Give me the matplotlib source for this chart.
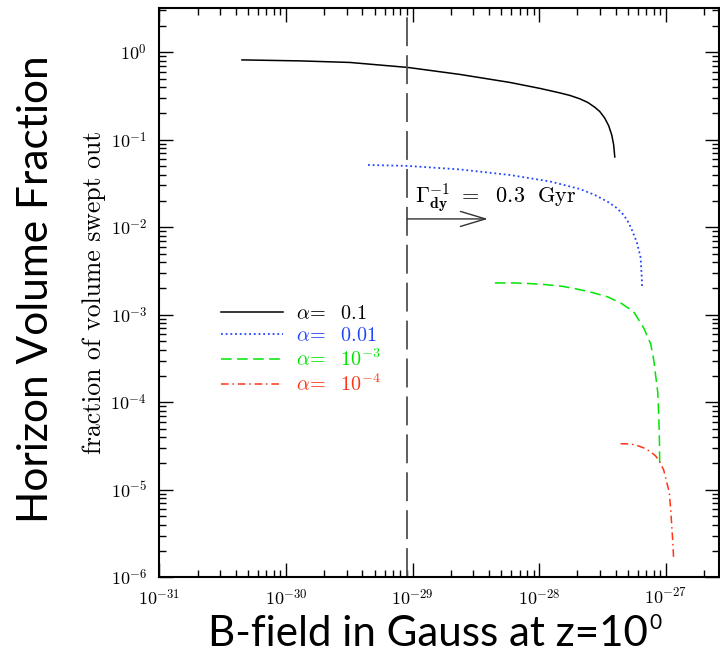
import matplotlib
matplotlib.use("Agg")
import matplotlib.pyplot as plt
from matplotlib.ticker import FuncFormatter, NullFormatter
import numpy as np

plt.rcParams['mathtext.fontset'] = 'cm'

# alpha = 0.1 (black, solid)
b1 = [4.48e-31, 1.29e-30, 3.19e-30, 9.14e-30, 2.35e-29, 5.83e-29, 1.01e-28,
      1.45e-28, 1.74e-28, 2.08e-28, 2.41e-28, 2.74e-28, 3.00e-28, 3.28e-28,
      3.53e-28, 3.73e-28, 3.86e-28, 3.94e-28]
f1 = [0.817, 0.796, 0.764, 0.670, 0.558, 0.452, 0.386,
      0.343, 0.321, 0.294, 0.267, 0.235, 0.210, 0.177,
      0.144, 0.113, 0.0873, 0.0636]

# alpha = 0.01 (blue, dotted)
b2 = [4.43e-30, 9.14e-30, 2.35e-29, 5.83e-29, 1.21e-28, 2.08e-28, 2.74e-28,
      3.47e-28, 4.08e-28, 4.64e-28, 5.08e-28, 5.46e-28, 5.87e-28, 6.09e-28,
      6.31e-28, 6.37e-28, 6.43e-28, 6.47e-28]
f2 = [0.0515, 0.0502, 0.0458, 0.0396, 0.0334, 0.0274, 0.0234,
      0.0195, 0.0166, 0.0138, 0.0112, 8.84e-3, 6.79e-3, 5.51e-3,
      4.46e-3, 3.43e-3, 2.70e-3, 2.08e-3]

# alpha = 1e-3 (green, dashed)
b3 = [4.45e-29, 6.40e-29, 8.40e-29, 1.12e-28, 1.50e-28, 1.97e-28, 2.64e-28,
      3.47e-28, 4.47e-28, 5.56e-28, 6.67e-28, 7.57e-28, 8.00e-28, 8.29e-28,
      8.60e-28, 8.71e-28, 8.81e-28, 8.88e-28, 8.91e-28]
f3 = [2.31e-3, 2.31e-3, 2.27e-3, 2.21e-3, 2.12e-3, 1.97e-3, 1.79e-3,
      1.60e-3, 1.34e-3, 1.08e-3, 7.06e-4, 4.64e-4, 3.04e-4, 2.00e-4,
      1.31e-4, 8.60e-5, 5.50e-5, 3.43e-5, 1.92e-5]

# alpha = 1e-4 (red, dash-dot)
b4 = [4.38e-28, 5.26e-28, 5.98e-28, 6.79e-28, 7.57e-28, 8.29e-28, 8.91e-28,
      9.59e-28, 1.01e-27, 1.06e-27, 1.09e-27, 1.11e-27, 1.13e-27, 1.15e-27]
f4 = [3.36e-5, 3.34e-5, 3.19e-5, 2.98e-5, 2.72e-5, 2.43e-5, 2.09e-5,
      1.68e-5, 1.24e-5, 9.44e-6, 5.88e-6, 3.85e-6, 2.60e-6, 1.58e-6]

labels = [r'$\alpha\!=\ \ 0.1$', r'$\alpha\!=\ \ 0.01$',
          r'$\alpha\!=\ \ 10^{-3}$', r'$\alpha\!=\ \ 10^{-4}$']

xticks = [1e-31, 1e-30, 1e-29, 1e-28, 1e-27]
yticks = [1e-6, 1e-5, 1e-4, 1e-3, 1e-2, 1e-1, 1e0]

b_dyn = 9.06e-30   # Gamma_dy^-1 = 0.3 Gyr
b_arrow_end = 3.92e-29
f_arrow = 0.01245

fig = plt.figure(figsize=(7.2, 6.57), dpi=100)
ax = fig.add_axes([0.2215, 0.1213, 0.7765, 0.8665])

ax.plot(b1, f1, color='black', lw=1.1, label=labels[0])
ax.plot(b2, f2, color='#2045ff', lw=1.3, ls=(0, (1, 1.6)), label=labels[1])
ax.plot(b3, f3, color='#00e600', lw=1.1, ls=(0, (7, 3.5)), label=labels[2])
ax.plot(b4, f4, color='#ff3515', lw=1.1, ls=(0, (5, 2.5, 1, 2.5)), label=labels[3])

ax.axvline(b_dyn, color='#505050', lw=1.3, dashes=(16, 5))
ax.annotate('', xy=(b_arrow_end, f_arrow), xytext=(b_dyn, f_arrow),
            arrowprops=dict(arrowstyle='->,head_length=1.5,head_width=0.45',
                            color='#333333', lw=1.0, mutation_scale=12,
                            shrinkA=0, shrinkB=0))
ax.text(1.04e-29, 0.0190, r'$\Gamma_{\mathbf{dy}}^{-1}\ =\ \ 0.3\ \ \mathrm{Gyr}$',
        fontsize=16, va='baseline', ha='left')

ax.set_xscale('log')
ax.set_yscale('log')
ax.set_xlim(1e-31, 2.6e-27)
ax.set_ylim(1e-6, 3.2)
ax.set_xticks(xticks)
ax.set_yticks(yticks)

fmt = FuncFormatter(lambda v, p: r'$10^{%d}$' % round(np.log10(v)))
ax.xaxis.set_major_formatter(fmt)
ax.yaxis.set_major_formatter(fmt)
ax.xaxis.set_minor_formatter(NullFormatter())
ax.yaxis.set_minor_formatter(NullFormatter())
ax.tick_params(which='both', direction='in', top=True, right=True, width=1.0,
               labelsize=13)
ax.tick_params(which='major', length=10)
ax.tick_params(which='minor', length=5)
ax.tick_params(axis='x', pad=8)
ax.tick_params(axis='y', pad=9)
for s in ax.spines.values():
    s.set_linewidth(1.5)

ax.set_ylabel('fraction of volume swept out', family='cmr10', fontsize=18.5, labelpad=3)

leg = ax.legend(loc='upper left', bbox_to_anchor=(0.095, 0.495), frameon=False,
                fontsize=14.5, handlelength=3.1, handletextpad=0.62,
                labelspacing=0.17, labelcolor='linecolor', borderaxespad=0)

fig.text(0.05, 0.56, 'Horizon Volume Fraction', rotation=90, family='Lato',
         fontsize=30.5, ha='center', va='center')
fig.text(0.594, 0.017, 'B-field in Gauss at z=10', family='Lato',
         fontsize=30.3, ha='center', va='baseline')
fig.text(0.902, 0.043, '0', family='Lato', fontsize=15,
         ha='left', va='baseline')

fig.savefig('out.png', dpi=100)
